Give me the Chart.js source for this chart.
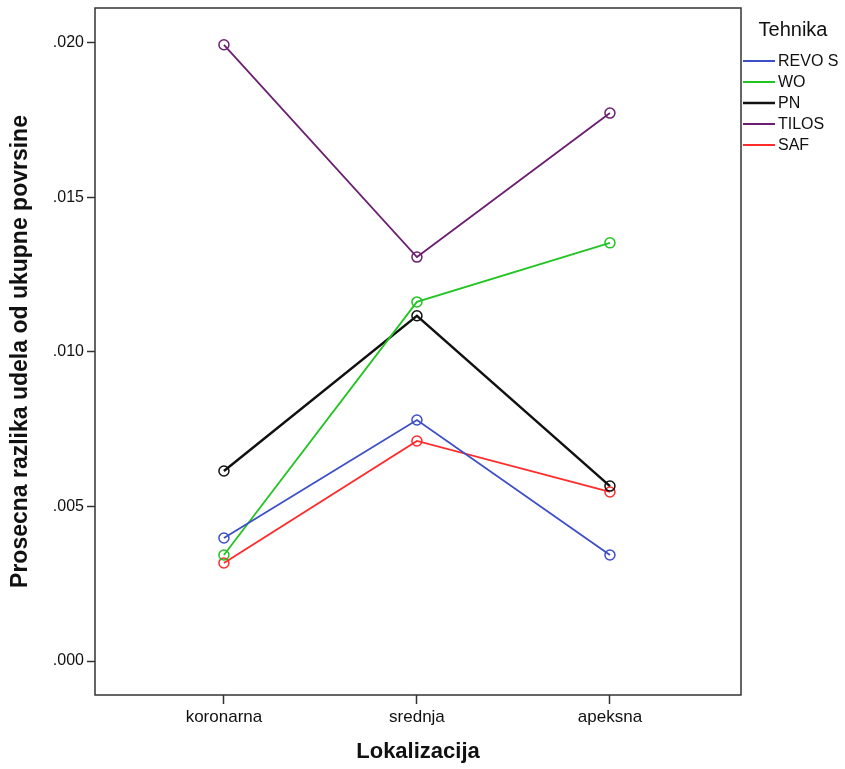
<!DOCTYPE html>
<html>
<head>
<meta charset="utf-8">
<script src="https://cdn.jsdelivr.net/npm/chart.js@4.4.0/dist/chart.umd.min.js"></script>
<style>
  html, body { margin: 0; padding: 0; background: #fff; }
  #wrap { width: 845px; height: 769px; position: relative; }
</style>
</head>
<body>
<div id="wrap"><canvas id="c"></canvas></div>
<script>
// Lokalizacija x Tehnika – srednje vrednosti
const lokalizacije = ["koronarna", "srednja", "apeksna"];
const tehnike = ["REVO S", "WO", "PN", "TILOS", "SAF"];
const boje = ["#3c4fc6", "#22c422", "#111111", "#6b1f70", "#ff2a2a"];

const revoS = [0.00398, 0.00780, 0.00343];
const wo = [0.00343, 0.01162, 0.01353];
const pn = [0.00615, 0.01117, 0.00566];
const tilos = [0.01994, 0.01307, 0.01773];
const saf = [0.00317, 0.00712, 0.00547];

const yTicks = [0, 0.005, 0.01, 0.015, 0.02];

const serije = [revoS, wo, pn, tilos, saf];
const FONT = "'Liberation Sans', Arial, sans-serif";

const datasets = tehnike.map((t, i) => ({
  label: t,
  data: serije[i].map((v, j) => ({ x: j, y: v })),
  borderColor: boje[i],
  backgroundColor: "transparent",
  borderWidth: t === "PN" ? 2.5 : 1.8,
  pointStyle: "circle",
  pointRadius: 5,
  pointBorderWidth: 1.5,
  pointBorderColor: boje[i],
  pointBackgroundColor: "rgba(255,255,255,0)",
  tension: 0,
}));

// okvir oko površine grafika + legenda desno
const okvir = {
  id: "okvir",
  afterDraw(chart) {
    const { ctx, chartArea: a } = chart;
    ctx.save();
    ctx.strokeStyle = "#333";
    ctx.lineWidth = 1.5;
    ctx.strokeRect(a.left, a.top, a.right - a.left, a.bottom - a.top);

    // legenda
    ctx.fillStyle = "#111";
    ctx.font = "20px " + FONT;
    ctx.textAlign = "center";
    ctx.textBaseline = "middle";
    ctx.fillText("Tehnika", 793, 30);
    ctx.textAlign = "left";
    ctx.font = "16px " + FONT;
    chart.data.datasets.forEach((ds, i) => {
      const y = 61 + i * 21;
      ctx.strokeStyle = ds.borderColor;
      ctx.lineWidth = ds.label === "PN" ? 2.5 : 2;
      ctx.beginPath();
      ctx.moveTo(743, y);
      ctx.lineTo(775, y);
      ctx.stroke();
      ctx.fillStyle = "#111";
      ctx.fillText(ds.label, 778, y + 1);
    });
    ctx.restore();
  },
};

new Chart(document.getElementById("c"), {
  type: "line",
  data: { datasets },
  plugins: [okvir],
  options: {
    responsive: true,
    maintainAspectRatio: false,
    animation: false,
    layout: { padding: { left: 0, top: 8, right: 104, bottom: 0 } },
    plugins: {
      legend: { display: false },
      tooltip: { enabled: false },
    },
    scales: {
      x: {
        type: "linear",
        min: -0.668,
        max: 2.679,
        afterBuildTicks: (s) => {
          s.ticks = lokalizacije.map((_, i) => ({ value: i }));
        },
        afterFit: (s) => {
          s.height = 74;
          s.paddingLeft = 0;
          s.paddingRight = 0;
        },
        grid: {
          drawOnChartArea: false,
          drawTicks: true,
          tickLength: 9,
          color: "#333",
          tickWidth: 1.5,
        },
        border: { display: false },
        ticks: {
          padding: 3,
          color: "#111",
          font: { family: FONT, size: 17 },
          callback: (v) => lokalizacije[v],
          maxRotation: 0,
        },
        title: {
          display: true,
          text: "Lokalizacija",
          color: "#111",
          font: { family: FONT, size: 22, weight: "bold" },
          padding: { top: 0, bottom: 4 },
        },
      },
      y: {
        type: "linear",
        min: -0.0011,
        max: 0.02113,
        afterBuildTicks: (s) => {
          s.ticks = yTicks.map((v) => ({ value: v }));
        },
        afterFit: (s) => {
          s.width = 95;
          s.paddingTop = 0;
          s.paddingBottom = 0;
        },
        grid: {
          drawOnChartArea: false,
          drawTicks: true,
          tickLength: 8,
          color: "#333",
          tickWidth: 1.5,
        },
        border: { display: false },
        ticks: {
          padding: 3,
          color: "#111",
          font: { family: FONT, size: 16 },
          callback: (v) => v.toFixed(3).replace(/^0/, ""),
        },
        title: {
          display: true,
          text: "Prosecna razlika udela od ukupne povrsine",
          color: "#111",
          font: { family: FONT, size: 23, weight: "bold" },
          padding: { top: 7, bottom: 0 },
        },
      },
    },
  },
});
</script>
</body>
</html>
